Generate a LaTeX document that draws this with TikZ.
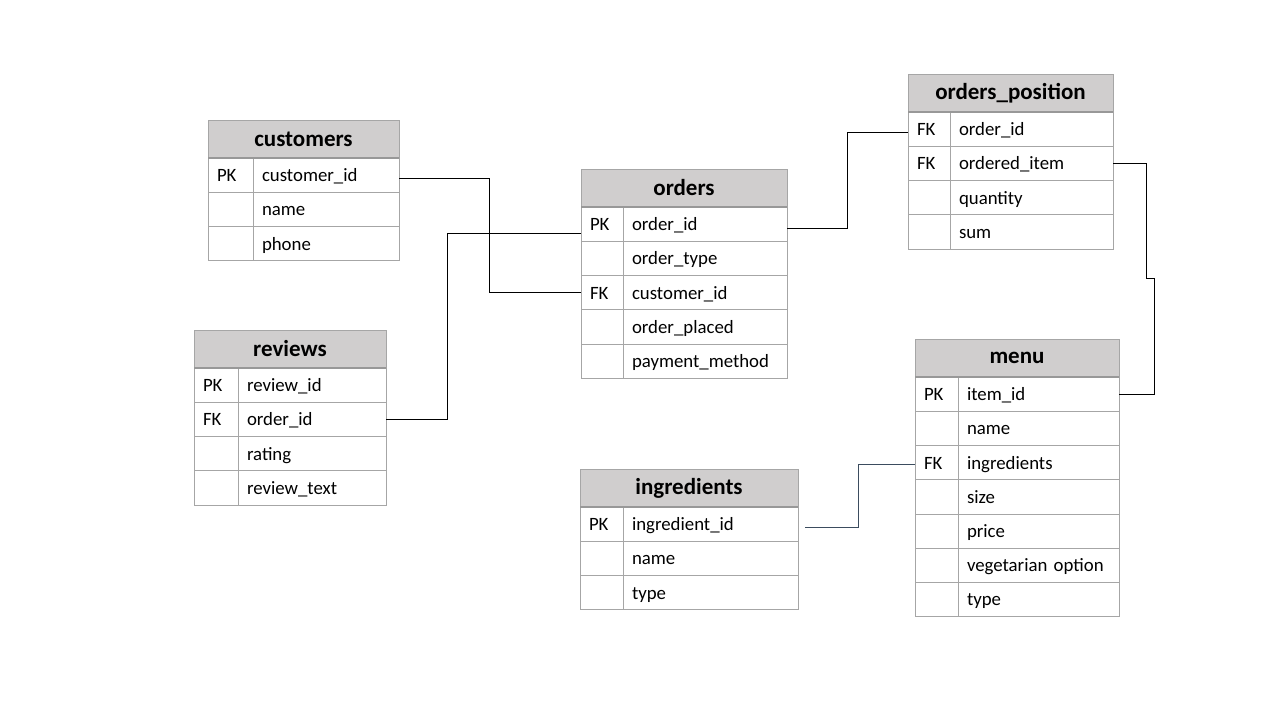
\documentclass[tikz,border=0pt]{standalone}
\usepackage{fontspec}
\setmainfont{Carlito}
\usetikzlibrary{positioning}
\definecolor{hdrfill}{HTML}{D0CECE}
\definecolor{cellline}{HTML}{A6A6A6}
\definecolor{hdrline}{HTML}{989898}
\definecolor{linkslate}{HTML}{3B4C5E}

\begin{document}
\begin{tikzpicture}[
    x=1pt, y=-1pt,
    hdr/.style={draw=cellline, fill=hdrfill, anchor=north west, inner sep=0pt, outer sep=0pt,
        minimum height=38pt, font=\fontsize{23}{26}\selectfont\bfseries},
    cell/.style={draw=cellline, anchor=north west, inner xsep=9pt, inner ysep=0pt, outer sep=0pt,
        minimum height=34.2pt, align=left, text width=#1, text height=15pt, text depth=2pt,
        font=\fontsize{18.8}{21}\selectfont},
    hdrrule/.style={draw=hdrline, line width=2pt},
    link/.style={line width=1pt}
]
\useasboundingbox (0,0) rectangle (1280,720);

% customers
\node[hdr, minimum width=191pt] (cust) at (208,120) {customers};
\foreach \k/\f [count=\i] in {PK/customer\_id, /name, /phone} {
    \node[cell=27pt] (cust-k\i) at (208,{158+34.2*(\i-1)}) {\k};
    \node[cell=128pt, right=0pt of cust-k\i] (cust-f\i) {\f};
}
\draw[hdrrule] (cust.south west) -- (cust.south east);

% orders
\node[hdr, minimum width=206pt] (ord) at (581,169) {orders};
\foreach \k/\f [count=\i] in {PK/order\_id, /order\_type, FK/customer\_id, /order\_placed, /payment\_method} {
    \node[cell=24pt] (ord-k\i) at (581,{207+34.2*(\i-1)}) {\k};
    \node[cell=146pt, right=0pt of ord-k\i] (ord-f\i) {\f};
}
\draw[hdrrule] (ord.south west) -- (ord.south east);

% orders_position
\node[hdr, minimum width=205pt] (pos) at (908,74) {orders\_position};
\foreach \k/\f [count=\i] in {FK/order\_id, FK/ordered\_item, /quantity, /sum} {
    \node[cell=24pt] (pos-k\i) at (908,{112+34.2*(\i-1)}) {\k};
    \node[cell=145pt, right=0pt of pos-k\i] (pos-f\i) {\f};
}
\draw[hdrrule] (pos.south west) -- (pos.south east);

% reviews
\node[hdr, minimum width=192pt] (rev) at (194,330) {reviews};
\foreach \k/\f [count=\i] in {PK/review\_id, FK/order\_id, /rating, /review\_text} {
    \node[cell=26pt] (rev-k\i) at (194,{368+34.2*(\i-1)}) {\k};
    \node[cell=130pt, right=0pt of rev-k\i] (rev-f\i) {\f};
}
\draw[hdrrule] (rev.south west) -- (rev.south east);

% ingredients
\node[hdr, minimum width=218pt] (ing) at (580,469) {ingredients};
\foreach \k/\f [count=\i] in {PK/ingredient\_id, /name, /type} {
    \node[cell=25pt] (ing-k\i) at (580,{507+34.2*(\i-1)}) {\k};
    \node[cell=157pt, right=0pt of ing-k\i] (ing-f\i) {\f};
}
\draw[hdrrule] (ing.south west) -- (ing.south east);

% menu
\node[hdr, minimum width=204pt] (menu) at (915,339) {menu};
\foreach \k/\f [count=\i] in {PK/item\_id, /name, FK/ingredients, /size, /price, /vegetarian option, /type} {
    \node[cell=25pt] (menu-k\i) at (915,{377+34.2*(\i-1)}) {\k};
    \node[cell=143pt, right=0pt of menu-k\i] (menu-f\i) {\f};
}
\draw[hdrrule] (menu.south west) -- (menu.south east);

% relations
\draw[link] ([yshift=-3pt]cust-f1.east) -- ++(90,0) |- (ord-k3.west);
\draw[link] (rev-f2.east) -- ++(61,0) |- ([yshift=-9pt]ord-k1.west);
\draw[link] ([yshift=-4pt]ord-f1.east) -- ++(60,0) |- ([yshift=-3pt]pos-k1.west);
\draw[link] (pos-f2.east) -- ++(33,0) -- ++(0,115) -- ++(8,0) |- (menu-f1.east);
\draw[link, linkslate] ([xshift=7pt, yshift=-3pt]ing-f1.east) -- ++(53,0) |- ([yshift=-2pt]menu-k3.west);
\end{tikzpicture}
\end{document}
